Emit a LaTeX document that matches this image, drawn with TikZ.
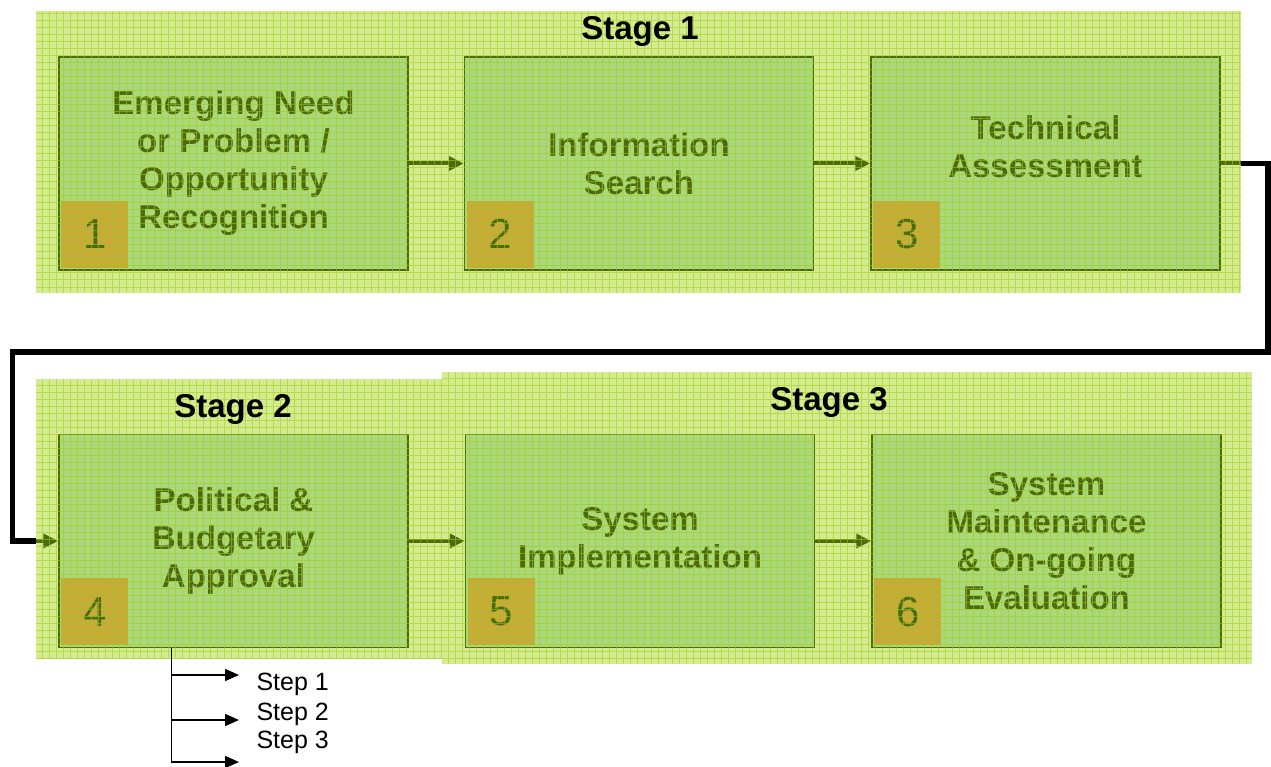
\documentclass[tikz,border=0pt]{standalone}
\usepackage{fontspec}
\setmainfont{Liberation Sans}
\usepackage{xcolor}
\usetikzlibrary{positioning,arrows.meta}
\pgfdeclarelayer{background}
\pgfsetlayers{background,main}
\definecolor{areagreen}{HTML}{D5EB8F}
\definecolor{boxgreen}{HTML}{ABD87C}
\definecolor{darkolive}{HTML}{4E6A0E}
\definecolor{ochre}{HTML}{C9A93A}
\definecolor{gridgreen}{HTML}{9BCD14}
\tikzset{
    stage-area/.style = {fill=areagreen, inner sep=0pt},
    stage-title/.style = {font=\fontsize{33}{38}\selectfont\bfseries, anchor=base},
    phase-box/.style = {draw=darkolive, fill=boxgreen, line width=1.5pt, minimum width=349pt, minimum height=213pt, inner sep=0pt, align=center, text=darkolive, font=\fontsize{33}{38}\selectfont\bfseries},
    phase-number/.style = {fill=ochre, minimum size=67pt, inner sep=0pt, anchor=south west, text=darkolive, font=\fontsize{42}{42}\selectfont},
    flow-line/.style = {draw=darkolive, line width=4pt},
    flow/.style = {flow-line, -{Triangle[length=15pt,width=14pt]}},
    link/.style = {draw=black, line width=5.5pt},
    step-arrow/.style = {draw=black, line width=1.5pt, -{Triangle[length=14pt,width=12pt]}},
    step-label/.style = {font=\fontsize{25}{30}\selectfont, anchor=base west},
    grid-lines/.style = {draw=gridgreen, line width=1pt, opacity=0.55, step=7pt},
}

\begin{document}
\begin{tikzpicture}[x=1pt, y=-1pt]
\useasboundingbox (0,0) rectangle (1271,767);

\node[stage-area, minimum width=1205pt, minimum height=282pt] (stage1) at (638.5,152) {};
\node[stage-area, minimum width=406pt, minimum height=280pt] (stage2) at (239,519) {};
\node[stage-area, minimum width=810pt, minimum height=292pt] (stage3) at (847,518) {};

\node[phase-box] (box1) at (233.5,163.5) {Emerging Need\\or Problem /\\Opportunity\\Recognition};
\node[phase-box, right=55pt of box1] (box2) {Information\\Search};
\node[phase-box, right=56pt of box2] (box3) {Technical\\Assessment\rule[-33pt]{0pt}{33pt}};
\node[phase-box] (box4) at (233.5,541) {Political \&\\Budgetary\\Approval};
\node[phase-box, right=56pt of box4] (box5) {System\\Implementation};
\node[phase-box, right=56pt of box5] (box6) {System\\Maintenance\\\& On-going\\Evaluation};

\node[phase-number] (num1) at ([xshift=3pt,yshift=3pt]box1.south west) {1};
\node[phase-number] (num2) at ([xshift=3pt,yshift=3pt]box2.south west) {2};
\node[phase-number] (num3) at ([xshift=3pt,yshift=3pt]box3.south west) {3};
\node[phase-number] (num4) at ([xshift=3pt,yshift=3pt]box4.south west) {4};
\node[phase-number] (num5) at ([xshift=3pt,yshift=3pt]box5.south west) {5};
\node[phase-number] (num6) at ([xshift=3pt,yshift=3pt]box6.south west) {6};

\draw[flow] (box1) -- (box2);
\draw[flow] (box2) -- (box3);
\draw[flow-line] (box3.east) -- (box3.east -| stage1.east);
\draw[flow] (box4.west -| stage2.west) -- (box4.west);
\draw[flow] (box4) -- (box5);
\draw[flow] (box5) -- (box6);

\begin{pgfonlayer}{background}
\draw[link] (box3.east) -| ++(47,188.5) -| ([xshift=-46pt]box4.west) -- (box4.west);
\end{pgfonlayer}

\draw[grid-lines] (stage1.south west) grid (stage1.north east);
\draw[grid-lines] (stage2.south west) grid (stage2.north east);
\draw[grid-lines] (stage3.south west) grid (stage3.north east);

\node[stage-title] (stage1-title) at (640,40) {Stage 1};
\node[stage-title] (stage2-title) at (233,417) {Stage 2};
\node[stage-title] (stage3-title) at (829,410) {Stage 3};

\coordinate (step-root) at ([xshift=113pt]box4.south west);
\coordinate (step1-end) at (239,675);
\coordinate (step2-end) at (239,720);
\coordinate (step3-end) at (239,762);
\draw[step-arrow] (step-root) |- (step1-end);
\draw[step-arrow] (step-root) |- (step2-end);
\draw[step-arrow] (step-root) |- (step3-end);
\node[step-label] (step1) at (253,690) {Step 1};
\node[step-label] (step2) at (253,720) {Step 2};
\node[step-label] (step3) at (253,748) {Step 3};
\end{tikzpicture}
\end{document}
